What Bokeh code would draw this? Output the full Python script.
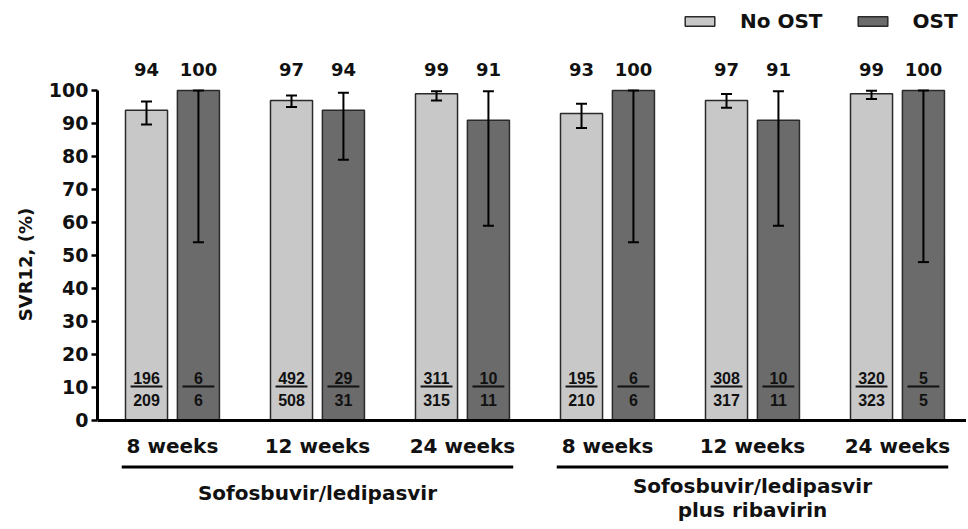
from bokeh.plotting import figure
from bokeh.models import (ColumnDataSource, Whisker, TeeHead, FixedTicker, LinearAxis,
                          Legend, LegendItem, Range1d)
from bokeh.core.properties import value
from bokeh.embed import file_html
from bokeh.resources import INLINE

# ---------------- data ----------------
weeks = ["8 weeks", "12 weeks", "24 weeks", "8 weeks", "12 weeks", "24 weeks"]
group_labels = ["Sofosbuvir/ledipasvir", "Sofosbuvir/ledipasvir", "plus ribavirin"]
series_names = ["No OST", "OST"]

no_ost = [94, 97, 99, 93, 97, 99]
no_ost_lo = [89.7, 95.0, 97.0, 88.6, 94.8, 97.4]
no_ost_hi = [96.7, 98.5, 99.8, 96.0, 98.9, 99.9]
no_ost_num = [196, 492, 311, 195, 308, 320]
no_ost_den = [209, 508, 315, 210, 317, 323]

ost = [100, 94, 91, 100, 91, 100]
ost_lo = [54, 79, 59, 54, 59, 48]
ost_hi = [100, 99.3, 99.8, 100, 99.8, 100]
ost_num = [6, 29, 10, 6, 10, 5]
ost_den = [6, 31, 11, 6, 11, 5]

y_ticks = [0, 10, 20, 30, 40, 50, 60, 70, 80, 90, 100]

# ---------------- layout ----------------
LIGHT = "#c8c8c8"
DARK = "#6b6b6b"
EDGE = "#2a2a2a"
TXT = "#111111"
FONT = value("DejaVu Sans")
OFF = 0.179
BW = 0.29

idx = list(range(len(weeks)))
x_light = [i - OFF for i in idx]
x_dark = [i + OFF for i in idx]

p = figure(frame_width=869, frame_height=528,
           x_range=Range1d(-0.517, 5.476), y_range=Range1d(-32.73, 127.27),
           output_backend="svg", toolbar_location=None,
           x_axis_type=None, y_axis_type=None,
           min_border_left=97, min_border_right=0, min_border_top=0, min_border_bottom=0)
p.outline_line_color = None
p.background_fill_color = "white"

src_l = ColumnDataSource(dict(x=x_light, top=no_ost, lo=no_ost_lo, hi=no_ost_hi,
                              lab=[str(v) for v in no_ost],
                              num=[str(v) for v in no_ost_num], den=[str(v) for v in no_ost_den]))
src_d = ColumnDataSource(dict(x=x_dark, top=ost, lo=ost_lo, hi=ost_hi,
                              lab=[str(v) for v in ost],
                              num=[str(v) for v in ost_num], den=[str(v) for v in ost_den]))

r_l = p.vbar(x="x", top="top", bottom=0, width=BW, source=src_l,
             fill_color=LIGHT, line_color=EDGE, line_width=1.5)
r_d = p.vbar(x="x", top="top", bottom=0, width=BW, source=src_d,
             fill_color=DARK, line_color=EDGE, line_width=1.5)

for src in (src_l, src_d):
    w = Whisker(base="x", lower="lo", upper="hi", source=src, line_width=2, line_color="black",
                level="annotation",
                upper_head=TeeHead(size=11, line_width=2, line_color="black"),
                lower_head=TeeHead(size=11, line_width=2, line_color="black"))
    p.add_layout(w)
    # value labels above bars
    p.text(x="x", y=106.4, text="lab", source=src, text_align="center",
           text_baseline="middle", text_font=FONT, text_font_style="bold",
           text_font_size="18px", text_color=TXT)
    # fractions inside bars
    p.text(x="x", y=12.9, text="num", source=src, text_align="center",
           text_baseline="middle", text_font=value("Liberation Sans"), text_font_style="bold",
           text_font_size="16px", text_color=TXT)
    p.text(x="x", y=6.15, text="den", source=src, text_align="center",
           text_baseline="middle", text_font=value("Liberation Sans"), text_font_style="bold",
           text_font_size="16px", text_color=TXT)

# fraction bars
fx = x_light + x_dark
p.segment(x0=[v - 0.11 for v in fx], y0=10.3, x1=[v + 0.11 for v in fx], y1=10.3,
          line_color=TXT, line_width=2)

# group underlines
p.segment(x0=[-0.35, 2.65], y0=-14.1, x1=[2.35, 5.35], y1=-14.1,
          line_color="black", line_width=3)

# group labels
p.text(x=[1, 4, 4], y=[-21.97, -19.7, -27.2], text=group_labels, text_align="center",
       text_baseline="middle", text_font=FONT, text_font_style="bold",
       text_font_size="20px", text_color=TXT)

# y axis
yaxis = LinearAxis(bounds=(0, 100), ticker=FixedTicker(ticks=y_ticks),
                   axis_label="SVR12, (%)")
yaxis.axis_line_width = 3
yaxis.axis_line_color = "black"
yaxis.major_tick_line_width = 2.5
yaxis.major_tick_line_color = "black"
yaxis.major_tick_out = 6
yaxis.major_tick_in = 0
yaxis.minor_tick_line_color = None
yaxis.major_label_standoff = 3
yaxis.major_label_text_font = "DejaVu Sans"
yaxis.major_label_text_font_style = "bold"
yaxis.major_label_text_font_size = "19px"
yaxis.major_label_text_color = TXT
yaxis.axis_label_text_font = "DejaVu Sans"
yaxis.axis_label_text_font_style = "bold"
yaxis.axis_label_text_font_size = "18px"
yaxis.axis_label_text_color = TXT
yaxis.axis_label_standoff = 10
p.add_layout(yaxis, "left")

# x axis at y = 0
xaxis = LinearAxis(fixed_location=0, ticker=FixedTicker(ticks=idx),
                   major_label_overrides={i: weeks[i] for i in idx})
xaxis.axis_line_width = 3
xaxis.axis_line_color = "black"
xaxis.major_tick_line_color = None
xaxis.minor_tick_line_color = None
xaxis.major_label_standoff = 8
xaxis.major_label_text_font = "DejaVu Sans"
xaxis.major_label_text_font_style = "bold"
xaxis.major_label_text_font_size = "20px"
xaxis.major_label_text_color = TXT
p.add_layout(xaxis, "below")

legend = Legend(items=[LegendItem(label=series_names[0], renderers=[r_l]),
                       LegendItem(label=series_names[1], renderers=[r_d])],
                orientation="horizontal", location=(584, 495),
                glyph_width=37, glyph_height=12, label_standoff=22, spacing=31,
                padding=0, margin=0, border_line_alpha=0, background_fill_alpha=0,
                label_text_font="DejaVu Sans", label_text_font_style="bold",
                label_text_font_size="20px", label_text_color=TXT)
p.add_layout(legend)

open("out.html", "w").write(file_html(p, INLINE))
